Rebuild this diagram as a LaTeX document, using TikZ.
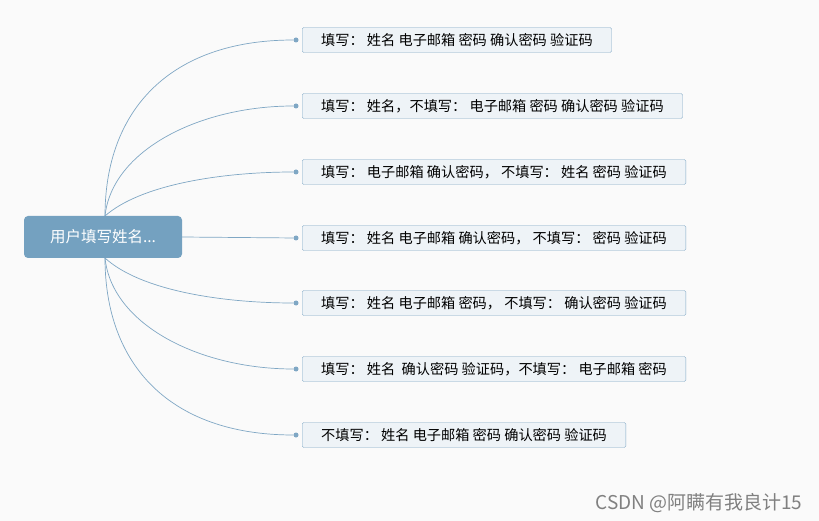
\documentclass[tikz,border=0pt]{standalone}
\usepackage{fontspec}
\setmainfont{Noto Sans CJK SC}
\definecolor{edge}{HTML}{7FA7C4}
\definecolor{rootfill}{HTML}{74A1C0}
\definecolor{leaffill}{HTML}{EEF3F7}
\tikzset{
  rootbox/.style={draw=none, fill=rootfill, rounded corners=4pt, text=white, minimum width=158pt, minimum height=42pt, font=\fontsize{15.5}{17}\selectfont},
  leafbox/.style={draw=edge, fill=leaffill, rounded corners=1.5pt, anchor=west, minimum height=25pt, inner ysep=2pt, inner xsep=19pt, font=\fontsize{14.2}{16}\selectfont},
  link/.style={edge, line width=0.7pt},
  dot/.style={circle, fill=edge, inner sep=0pt, minimum size=5pt}
}
\begin{document}
\begin{tikzpicture}[x=1pt, y=-1pt]
\useasboundingbox[fill=white!98!black] (0,0) rectangle (819,521);
\node[rootbox] (root) at (103,237) {用户填写姓名...};
\coordinate (top) at (105,216);
\coordinate (bot) at (105,258);

\node[leafbox] (l1) at (302,40) {填写： 姓名 电子邮箱 密码 确认密码 验证码};
\node[leafbox] (l2) at (302,106) {填写： 姓名，不填写： 电子邮箱 密码 确认密码 验证码};
\node[leafbox] (l3) at (302,172) {填写： 电子邮箱 确认密码， 不填写： 姓名 密码 验证码};
\node[leafbox] (l4) at (302,238) {填写： 姓名 电子邮箱 确认密码， 不填写： 密码 验证码};
\node[leafbox] (l5) at (302,303) {填写： 姓名 电子邮箱 密码， 不填写： 确认密码 验证码};
\node[leafbox] (l6) at (302,369) {填写： 姓名 \ 确认密码 验证码，不填写： 电子邮箱 密码};
\node[leafbox] (l7) at (302,435) {不填写： 姓名 电子邮箱 密码 确认密码 验证码};

\foreach \n in {1,...,7} {
  \node[dot] (d\n) at ([xshift=-6pt]l\n.west) {};
}

% upper branches
\draw[link] (top) .. controls (105,110) and (170,40) .. (d1);
\draw[link] (top) .. controls (112,150) and (200,106) .. (d2);
\draw[link] (top) .. controls (140,185) and (220,172) .. (d3);
\draw[link] (root.east) -- (d4);
% lower branches
\draw[link] (bot) .. controls (140,290) and (220,303) .. (d5);
\draw[link] (bot) .. controls (112,325) and (200,369) .. (d6);
\draw[link] (bot) .. controls (105,365) and (170,435) .. (d7);

\node[anchor=south east, text=gray, font=\fontsize{19}{21}\selectfont] (mark) at (806,516) {CSDN @阿瞒有我良计15};
\end{tikzpicture}
\end{document}
